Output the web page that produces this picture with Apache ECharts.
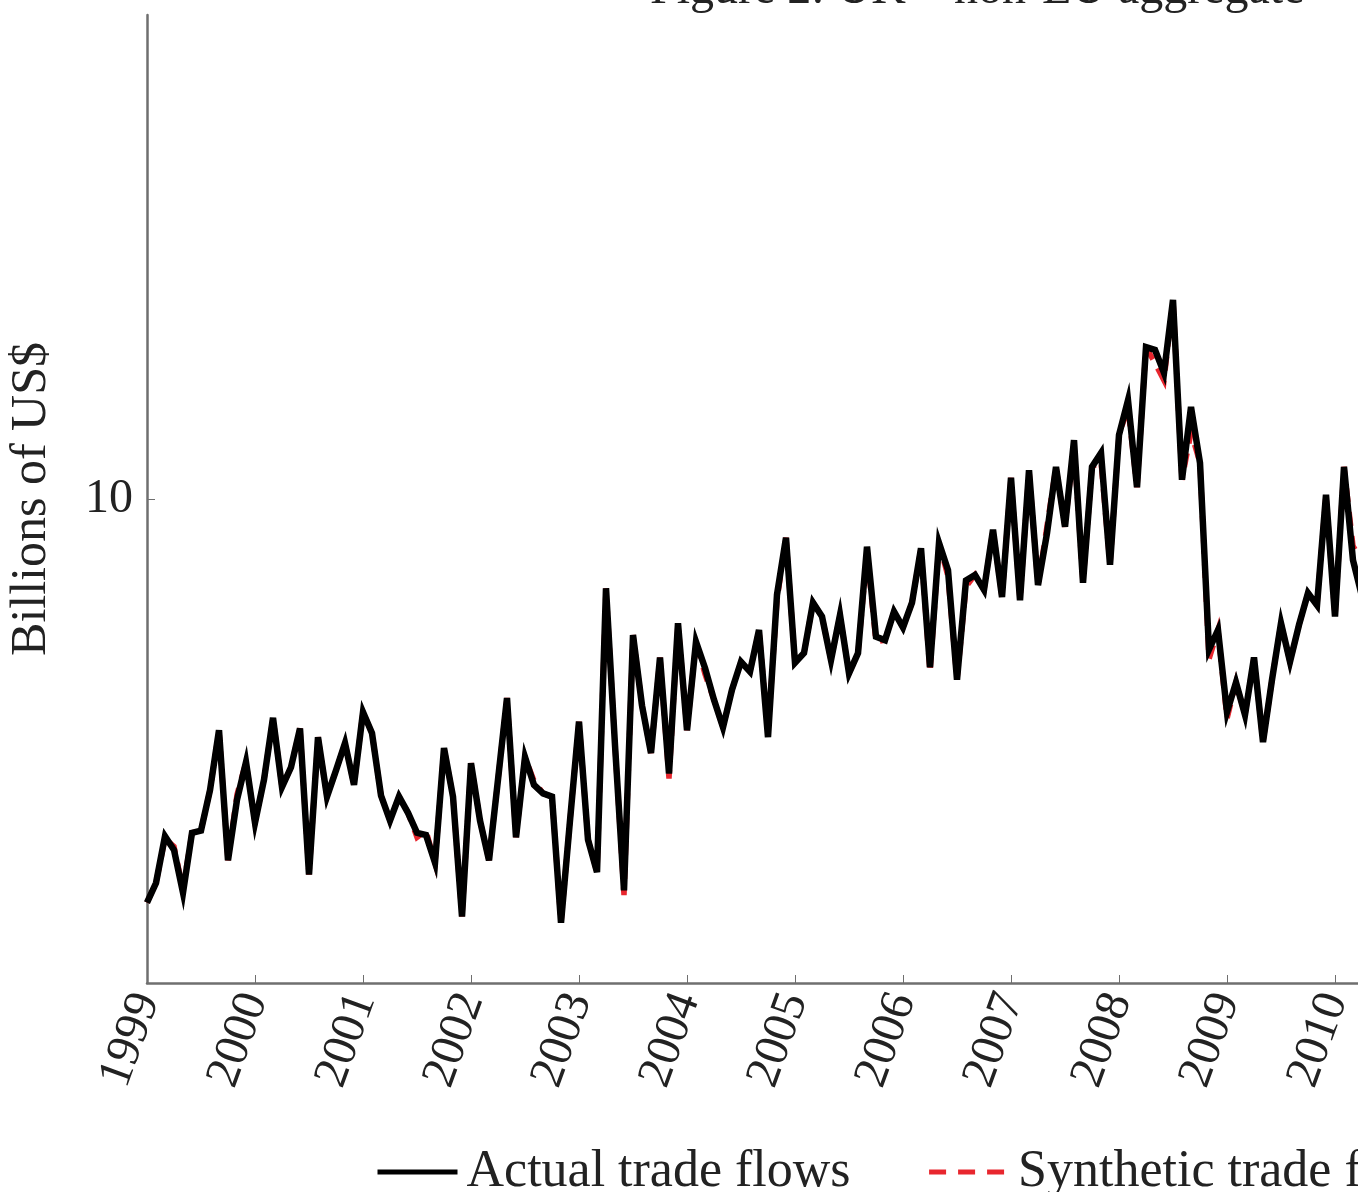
<!DOCTYPE html>
<html>
<head>
<meta charset="utf-8">
<title>Actual vs synthetic trade flows</title>
<script src="https://cdn.jsdelivr.net/npm/echarts@6/dist/echarts.min.js"></script>
<style>
  html, body { margin: 0; padding: 0; background: #fff; overflow: hidden; }
  #chart { width: 1358px; height: 1192px; }
</style>
</head>
<body>
<div id="chart"></div>
<script>
// monthly series, first value = January 1999
const startYear = 1999;
const yTicks = [10];

const actual = [
  5.61, 5.77, 6.17, 6.05, 5.69, 6.20, 6.22, 6.59, 7.18, 5.96, 6.50, 6.86,
  6.29, 6.69, 7.31, 6.62, 6.81, 7.20, 5.84, 7.11, 6.53, 6.78, 7.05, 6.64,
  7.37, 7.15, 6.54, 6.31, 6.53, 6.38, 6.20, 6.18, 5.94, 7.00, 6.53, 5.50,
  6.85, 6.31, 5.96, 6.69, 7.52, 6.16, 6.91, 6.64, 6.56, 6.53, 5.45, 6.31,
  7.27, 6.14, 5.86, 8.80, 7.03, 5.71, 8.23, 7.44, 6.95, 7.97, 6.75, 8.37,
  7.18, 8.15, 7.85, 7.50, 7.21, 7.61, 7.92, 7.81, 8.29, 7.11, 8.72, 9.46,
  7.91, 8.02, 8.62, 8.45, 7.94, 8.47, 7.79, 8.02, 9.34, 8.21, 8.17, 8.51,
  8.32, 8.62, 9.32, 7.86, 9.39, 9.03, 7.72, 8.90, 8.97, 8.78, 9.57, 8.69,
  10.31, 8.65, 10.42, 8.84, 9.52, 10.47, 9.61, 10.88, 8.87, 10.47, 10.68, 9.10,
  10.96, 11.52, 10.17, 12.43, 12.38, 11.98, 13.30, 10.28, 11.41, 10.53, 8.06, 8.29,
  7.37, 7.69, 7.34, 7.97, 7.06, 7.72, 8.37, 7.92, 8.35, 8.74, 8.59, 10.06,
  8.45, 10.47, 9.16, 8.70, 8.40
];

const synthetic = [
  5.61, 5.77, 6.15, 6.08, 5.72, 6.20, 6.22, 6.59, 7.18, 5.96, 6.55, 6.86,
  6.29, 6.69, 7.31, 6.62, 6.81, 7.20, 5.84, 7.11, 6.53, 6.78, 7.05, 6.64,
  7.37, 7.15, 6.54, 6.31, 6.53, 6.38, 6.16, 6.22, 5.94, 7.00, 6.53, 5.50,
  6.85, 6.31, 5.96, 6.69, 7.52, 6.16, 6.91, 6.68, 6.56, 6.53, 5.45, 6.31,
  7.27, 6.14, 5.86, 8.80, 7.03, 5.67, 8.23, 7.44, 6.95, 7.97, 6.70, 8.37,
  7.18, 8.15, 7.78, 7.50, 7.21, 7.61, 7.92, 7.81, 8.29, 7.16, 8.65, 9.46,
  7.91, 8.02, 8.62, 8.45, 7.94, 8.47, 7.79, 8.02, 9.25, 8.15, 8.17, 8.51,
  8.32, 8.62, 9.32, 7.80, 9.39, 8.95, 7.72, 8.82, 8.97, 8.78, 9.57, 8.69,
  10.31, 8.65, 10.42, 8.84, 9.62, 10.47, 9.61, 10.80, 8.87, 10.47, 10.55, 9.10,
  10.96, 11.40, 10.17, 12.43, 12.15, 11.85, 13.30, 10.28, 11.00, 10.53, 7.95, 8.29,
  7.30, 7.69, 7.34, 7.97, 7.06, 7.72, 8.37, 7.92, 8.35, 8.74, 8.59, 10.06,
  8.45, 10.47, 9.35, 9.15, 8.60
];

const toPoints = arr => arr.map((v, i) => [startYear + i / 12, v]);

const font = 'Liberation Serif';
const axisGray = '#6f6f6f';

const chart = echarts.init(document.getElementById('chart'));
chart.setOption({
  animation: false,
  backgroundColor: '#fff',
  title: {
    text: 'Figure 2: UK \u2013 non-EU aggregate',
    left: 645,
    top: -39,
    textStyle: { fontFamily: font, fontSize: 48, fontWeight: 'normal', color: '#222' }
  },
  legend: {
    left: 370,
    top: 1141,
    width: 2400,
    itemWidth: 80,
    itemHeight: 20,
    itemGap: 76,
    itemStyle: { opacity: 0 },
    lineStyle: { width: 5 },
    textStyle: { fontFamily: font, fontSize: 52, color: '#222', padding: [0, 0, 0, 4] },
    data: [
      { name: 'Actual trade flows' },
      { name: 'Synthetic trade flows', lineStyle: { type: [17, 12] } }
    ]
  },
  grid: {
    left: 147,
    top: 15,
    right: -85,
    bottom: 209,
    outerBoundsMode: 'none'
  },
  xAxis: {
    type: 'value',
    min: 1999,
    max: 2011,
    interval: 1,
    axisLine: { lineStyle: { color: axisGray, width: 2.5 } },
    axisTick: { inside: true, length: 8, lineStyle: { color: axisGray, width: 1 } },
    axisLabel: {
      rotate: 70,
      margin: 12,
      fontFamily: font,
      fontSize: 48,
      color: '#222',
      formatter: v => String(v)
    },
    splitLine: { show: false }
  },
  yAxis: {
    type: 'log',
    logBase: 10,
    min: 5,
    max: 20,
    name: 'Billions of US$',
    nameLocation: 'middle',
    nameGap: 90,
    nameTextStyle: { fontFamily: font, fontSize: 50, color: '#222' },
    axisLine: { show: true, lineStyle: { color: axisGray, width: 2.5 } },
    axisTick: { show: true, inside: true, length: 8, customValues: yTicks, lineStyle: { color: axisGray, width: 1 } },
    axisLabel: { fontFamily: font, fontSize: 48, color: '#222', margin: 14, customValues: yTicks },
    splitLine: { show: false }
  },
  series: [
    {
      name: 'Actual trade flows',
      type: 'line',
      data: toPoints(actual),
      symbol: 'none',
      z: 3,
      lineStyle: { color: '#000', width: 6.5, join: 'miter', miterLimit: 6 },
      itemStyle: { color: '#000' }
    },
    {
      name: 'Synthetic trade flows',
      type: 'line',
      data: toPoints(synthetic),
      symbol: 'none',
      z: 2,
      lineStyle: { color: '#e8262e', width: 5.5, type: [14, 10], join: 'miter', miterLimit: 6 },
      itemStyle: { color: '#e8262e' }
    }
  ]
});
</script>
</body>
</html>
